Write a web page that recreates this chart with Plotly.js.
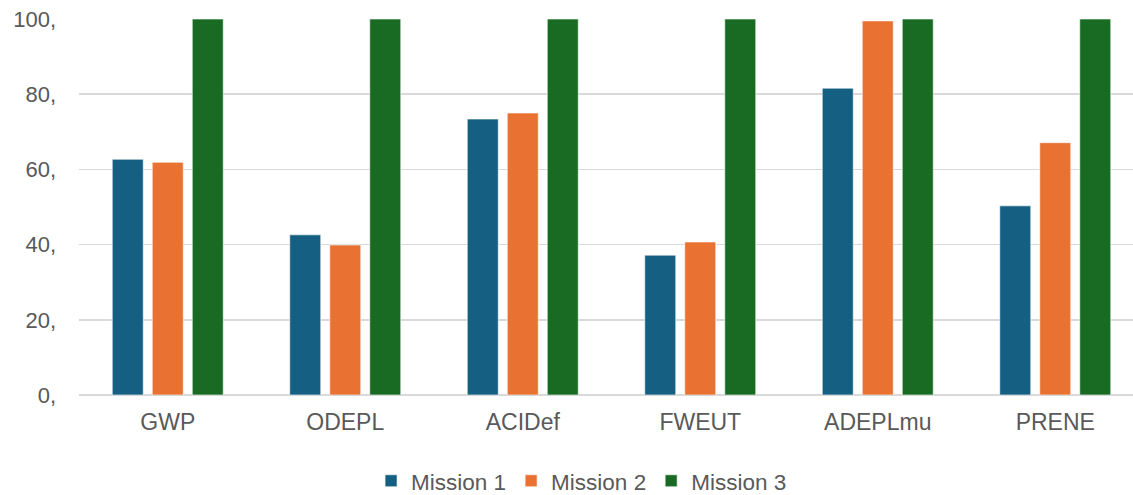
<!DOCTYPE html>
<html>
<head>
<meta charset="utf-8">
<script src="https://cdn.plot.ly/plotly-3.0.1.min.js"></script>
<style>
  html, body { margin: 0; padding: 0; background: #fff; }
  #chart { width: 1133px; height: 495px; }
</style>
</head>
<body>
<div id="chart"></div>
<script>
// Impact categories and normalised scores per mission
const categories = ["GWP", "ODEPL", "ACIDef", "FWEUT", "ADEPLmu", "PRENE"];
const mission1 = [62.7, 42.6, 73.4, 37.2, 81.6, 50.3];
const mission2 = [61.9, 39.9, 75.0, 40.7, 99.5, 67.1];
const mission3 = [100, 100, 100, 100, 100, 100];
const seriesNames = ["Mission 1", "Mission 2", "Mission 3"];
const seriesColors = ["#156082", "#E97132", "#196B24"];
const yTickVals = [0, 20, 40, 60, 80, 100];
const yTickText = ["0,", "20,", "40,", "60,", "80,", "100,"];

const family = "Liberation Sans, Arial, sans-serif";
const grey = "#595959";

const traces = [mission1, mission2, mission3].map((vals, i) => ({
  type: "bar",
  name: seriesNames[i],
  x: categories,
  y: vals,
  marker: { color: seriesColors[i], line: { color: "rgba(255,255,255,0.6)", width: 1 } },
  hoverinfo: "x+y+name"
}));

const layout = {
  width: 1133,
  height: 495,
  margin: { l: 79, r: 0, t: 19, b: 100, autoexpand: false },
  paper_bgcolor: "#ffffff",
  plot_bgcolor: "#ffffff",
  font: { family: family, size: 22, color: grey },
  barmode: "group",
  bargap: 0.324,
  bargroupgap: 0.225,
  showlegend: true,
  legend: {
    orientation: "h",
    xref: "container",
    yref: "container",
    x: 0.5133,
    xanchor: "center",
    y: 0.028,
    yanchor: "middle",
    font: { family: family, size: 22.5, color: grey },
    itemwidth: 30,
    tracegroupgap: 0
  },
  xaxis: {
    type: "category",
    range: [-0.5, 5.438],
    showgrid: false,
    showline: false,
    zeroline: false,
    ticks: "",
    ticklabelstandoff: 11,
    tickfont: { family: family, size: 23, color: grey },
    fixedrange: true
  },
  yaxis: {
    range: [0, 100],
    tickmode: "array",
    tickvals: yTickVals,
    ticktext: yTickText,
    showgrid: true,
    gridcolor: "#D9D9D9",
    gridwidth: 1.5,
    zeroline: true,
    zerolinecolor: "#D9D9D9",
    zerolinewidth: 1.5,
    showline: false,
    ticks: "",
    ticklabelstandoff: 22,
    tickfont: { family: family, size: 22, color: grey },
    fixedrange: true
  }
};

Plotly.newPlot("chart", traces, layout, { displayModeBar: false, staticPlot: true });
</script>
</body>
</html>
